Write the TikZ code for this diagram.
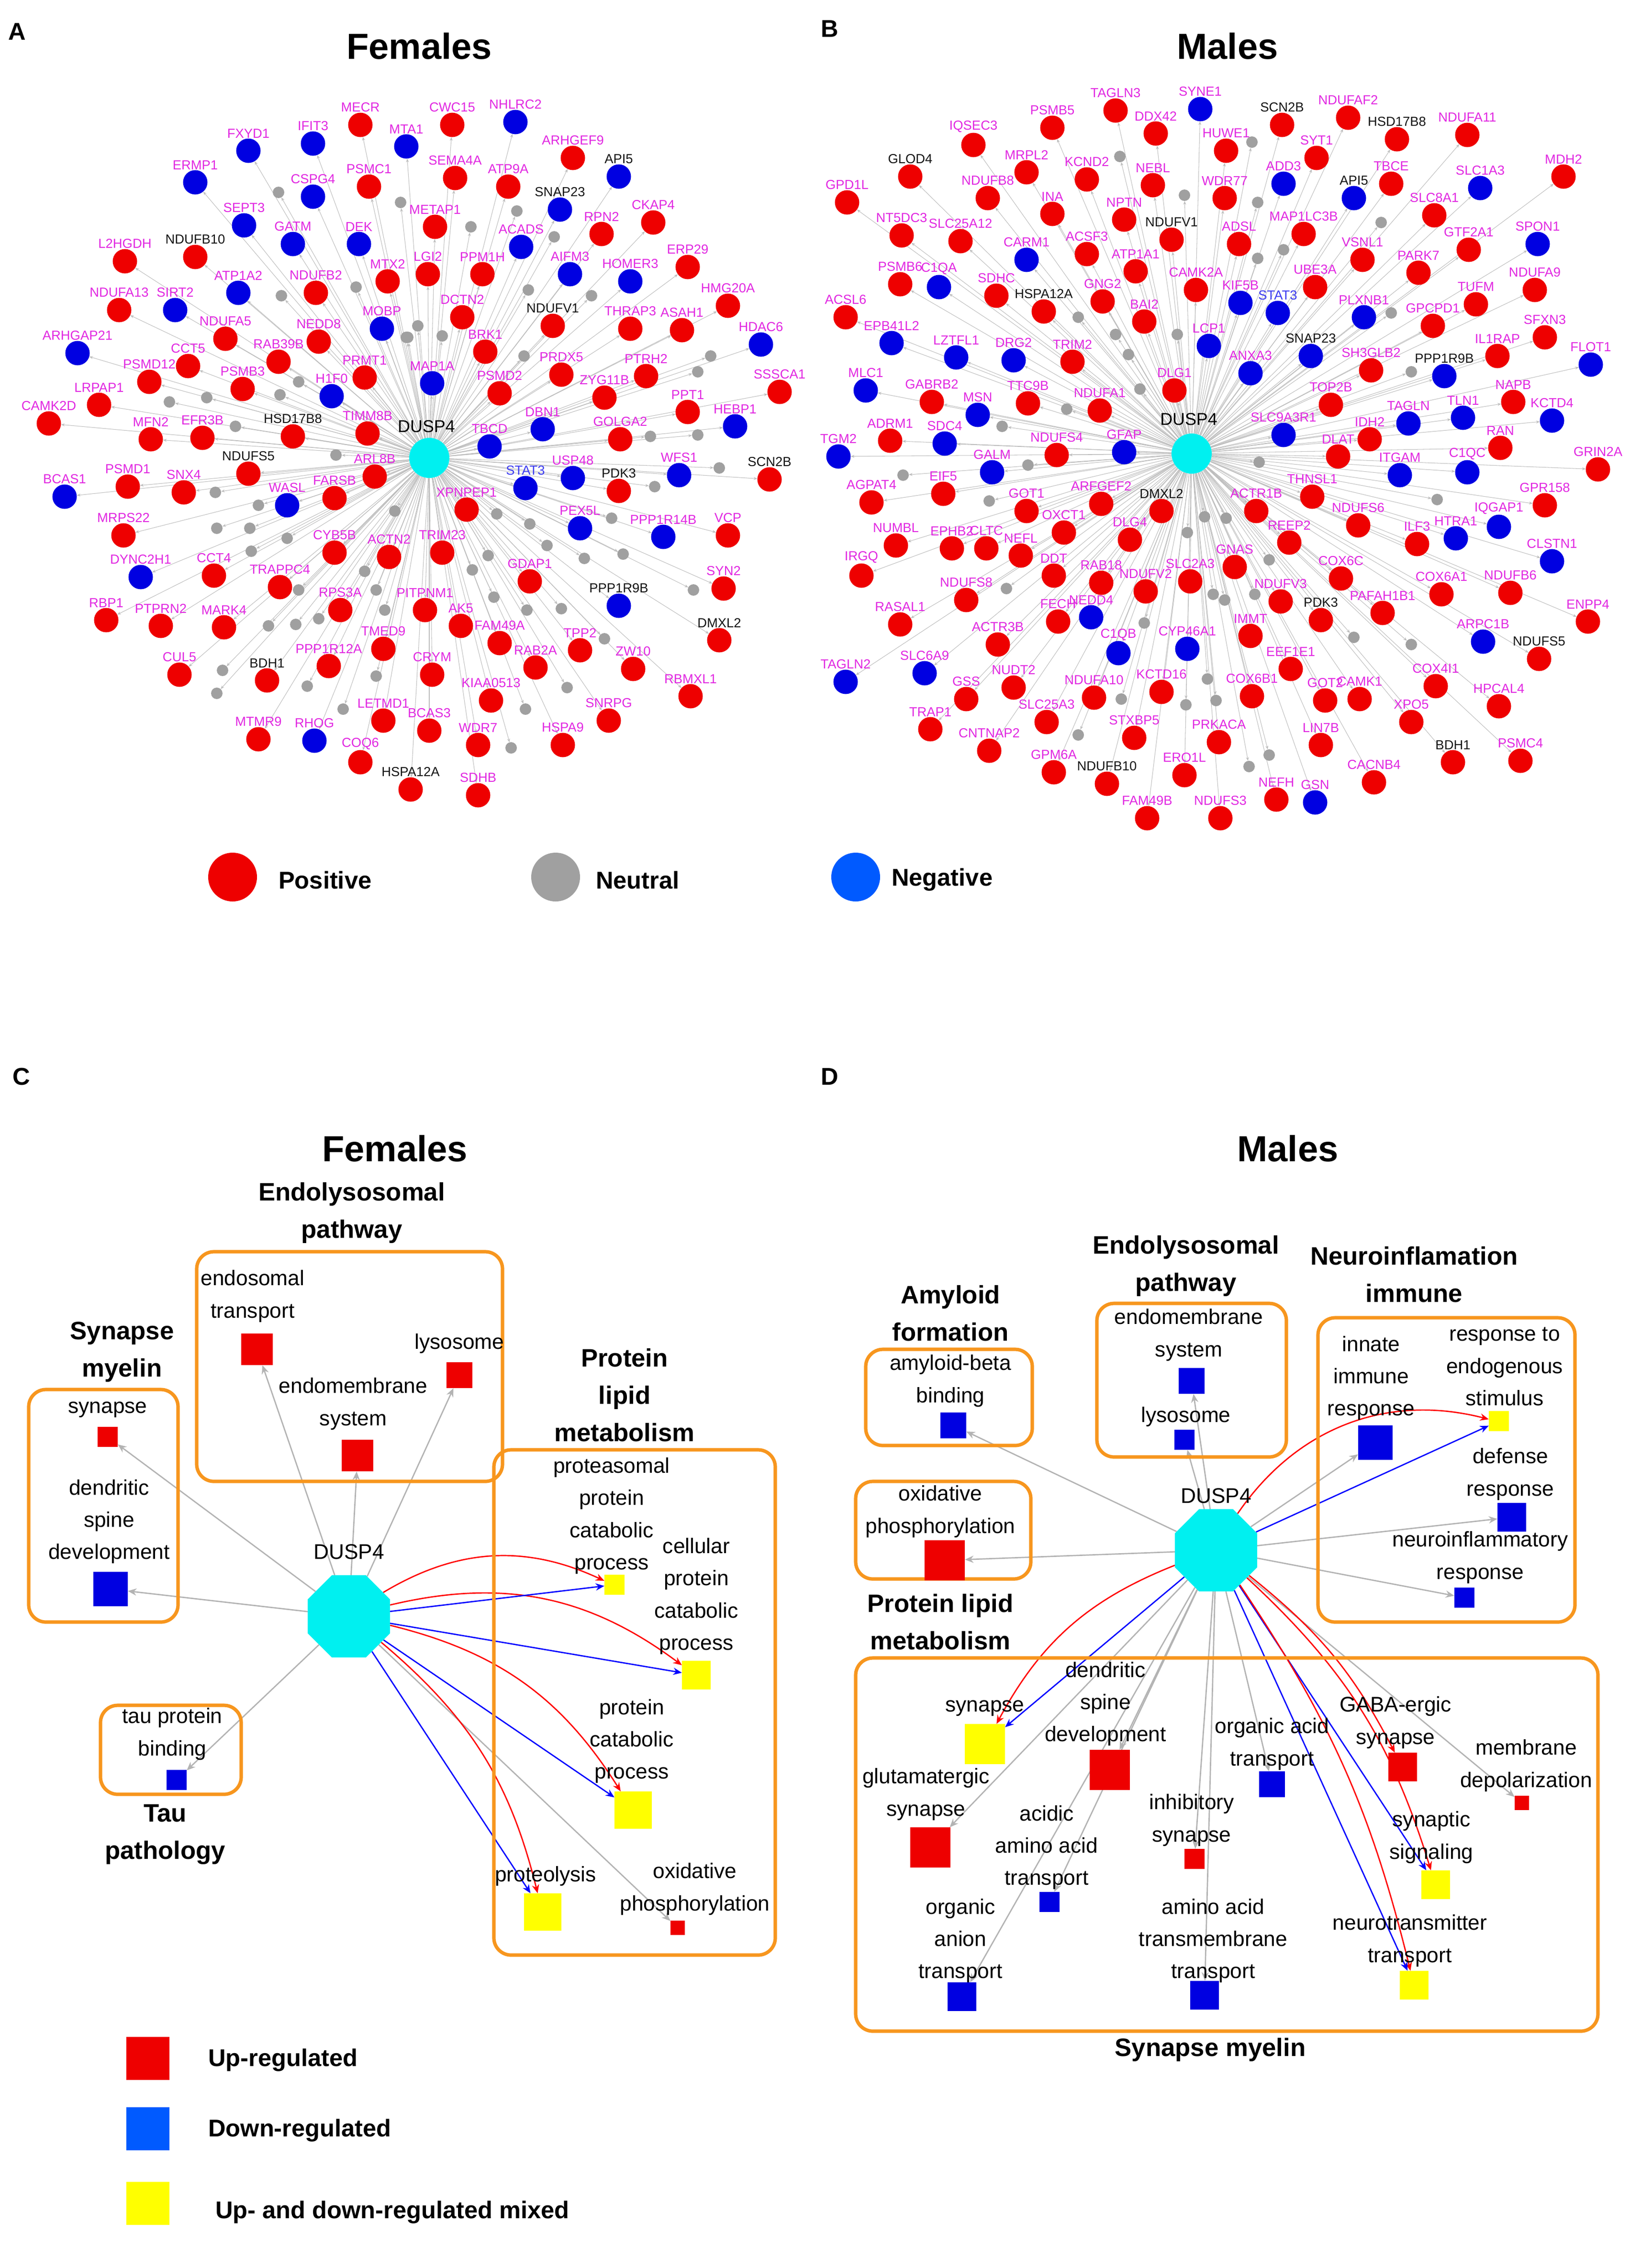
\documentclass[tikz,border=0pt]{standalone}
\usepackage{fontspec}
\setmainfont{Liberation Sans}
\usetikzlibrary{shapes.geometric,arrows.meta,backgrounds}
\definecolor{cP}{RGB}{238,0,0}
\definecolor{cN}{RGB}{0,0,225}
\definecolor{cM}{RGB}{225,40,225}
\definecolor{cK}{RGB}{20,20,20}
\definecolor{cB}{RGB}{60,60,240}
\definecolor{cG}{RGB}{160,160,160}
\definecolor{cC}{RGB}{0,240,240}
\definecolor{cO}{RGB}{247,150,30}
\definecolor{cY}{RGB}{255,255,0}
\definecolor{cLB}{RGB}{0,90,255}
\tikzset{
 nd/.style={circle,minimum size=17mm,inner sep=0,draw=none},
 gd/.style={circle,minimum size=8mm,inner sep=0,fill=cG,draw=none},
 lab/.style={font=\fontsize{26}{26}\selectfont,inner sep=0.3mm},
 gedge/.style={draw=cG!70,line width=0.35mm,-{Stealth[length=2.5mm,width=2mm]}},
 hub/.style={circle,fill=cC,minimum size=28mm,inner sep=0},
 hublab/.style={font=\fontsize{34}{34}\selectfont},
 oct/.style={regular polygon,regular polygon sides=8,fill=cC,minimum size=62mm,inner sep=0},
 sq/.style={rectangle,minimum size=#1,inner sep=0,draw=none},
 ct/.style={font=\fontsize{42}{64}\selectfont,align=center,inner sep=0},
 tt/.style={font=\bfseries\fontsize{50}{74}\selectfont,align=center,inner sep=0},
 pt/.style={font=\bfseries\fontsize{72}{72}\selectfont,inner sep=0},
 let/.style={font=\bfseries\fontsize{48}{48}\selectfont,inner sep=0},
 leg/.style={font=\bfseries\fontsize{48}{48}\selectfont,anchor=west,inner sep=0},
 obox/.style={draw=cO,line width=2.4mm,rounded corners=12mm},
 ce/.style={draw=cG!80,line width=0.9mm,-{Stealth[length=6mm,width=5mm]}},
 re/.style={draw=red,line width=0.9mm,-{Stealth[length=6mm,width=5mm]}},
 be/.style={draw=blue,line width=0.9mm,-{Stealth[length=6mm,width=5mm]}},
}
\def\Alist{173/105/FXYD1/N/M,218/100/IFIT3/N/M,251/87/MECR/P/M,283/102/MTA1/N/M,315/87/CWC15/P/M,359/85/NHLRC2/N/M,
136/127/ERMP1/N/M,218/137/CSPG4/N/M,257/130/PSMC1/P/M,317/124/SEMA4A/P/M,399/110/ARHGEF9/P/M,431/123/API5/N/K,
354/130/ATP9A/P/M,390/146/SNAP23/N/K,170/157/SEPT3/N/M,204/170/GATM/N/M,250/170/DEK/N/M,303/158/METAP1/P/M,
363/172/ACADS/N/M,419/163/RPN2/P/M,455/155/CKAP4/P/M,87/182/L2HGDH/P/M,136/179/NDUFB10/P/K,166/204/ATP1A2/N/M,
220/204/NDUFB2/P/M,270/196/MTX2/P/M,298/191/LGI2/P/M,336/191/PPM1H/P/M,397/191/AIFM3/N/M,439/196/HOMER3/N/M,
479/186/ERP29/P/M,83/216/NDUFA13/P/M,122/216/SIRT2/N/M,322/221/DCTN2/P/M,385/227/NDUFV1/P/K,439/229/THRAP3/P/M,
475/230/ASAH1/P/M,507/213/HMG20A/P/M,157/236/NDUFA5/P/M,222/238/NEDD8/P/M,266/229/MOBP/N/M,338/245/BRK1/P/M,
530/240/HDAC6/N/M,54/246/ARHGAP21/N/M,131/255/CCT5/P/M,194/252/RAB39B/P/M,254/263/PRMT1/P/M,104/266/PSMD12/P/M,
169/271/PSMB3/P/M,231/276/H1F0/N/M,301/267/MAP1A/N/M,348/274/PSMD2/P/M,391/261/PRDX5/P/M,421/277/ZYG11B/P/M,
450/262/PTRH2/P/M,543/273/SSSCA1/P/M,69/282/LRPAP1/P/M,479/287/PPT1/P/M,512/297/HEBP1/N/M,378/299/DBN1/N/M,
34/295/CAMK2D/P/M,105/306/MFN2/P/M,141/305/EFR3B/P/M,204/304/HSD17B8/P/K,256/302/TIMM8B/P/M,432/306/GOLGA2/P/M,
341/311/TBCD/N/M,173/330/NDUFS5/P/K,261/332/ARL8B/P/M,45/346/BCAS1/N/M,89/339/PSMD1/P/M,128/343/SNX4/P/M,
200/352/WASL/N/M,233/347/FARSB/P/M,399/333/USP48/N/M,366/340/STAT3/N/B,431/342/PDK3/P/K,473/331/WFS1/N/M,
536/334/SCN2B/P/K,325/355/XPNPEP1/P/M,86/373/MRPS22/P/M,404/368/PEX5L/N/M,462/374/PPP1R14B/N/M,507/373/VCP/P/M,
233/385/CYB5B/P/M,271/388/ACTN2/P/M,308/385/TRIM23/P/M,98/402/DYNC2H1/N/M,149/401/CCT4/P/M,195/409/TRAPPC4/P/M,
369/405/GDAP1/P/M,504/410/SYN2/P/M,431/422/PPP1R9B/N/K,237/425/RPS3A/P/M,296/425/PITPNM1/P/M,74/432/RBP1/P/M,
112/436/PTPRN2/P/M,156/437/MARK4/P/M,321/436/AK5/P/M,501/446/DMXL2/P/K,348/448/FAM49A/P/M,404/453/TPP2/P/M,
267/452/TMED9/P/M,229/464/PPP1R12A/P/M,373/465/RAB2A/P/M,441/466/ZW10/P/M,125/470/CUL5/P/M,186/474/BDH1/P/K,
301/470/CRYM/P/M,481/485/RBMXL1/P/M,342/488/KIAA0513/P/M,267/502/LETMD1/P/M,424/502/SNRPG/P/M,299/509/BCAS3/P/M,
180/515/MTMR9/P/M,219/516/RHOG/N/M,333/519/WDR7/P/M,392/519/HSPA9/P/M,251/531/COQ6/P/M,286/550/HSPA12A/P/K,
333/554/SDHB/P/M}
\def\Agray{194/134,279/141,196/206,248/200,283/235,208/266,195/275,144/277,118/280,164/297,
360/147,328/158,386/165,368/202,412/206,291/227,284/235,308/234,365/248,495/248,486/259,453/304,486/303,234/317,
150/343,180/352,151/368,174/368,200/375,175/384,275/356,254/398,208/411,262/411,268/425,222/431,206/435,187/436,
155/467,151/483,214/478,262/471,239/494,501/326,456/339,346/358,369/365,426/361,381/380,407/389,434/386,483/411,
340/387,329/397,344/416,367/425,391/424,421/445,395/479,366/494,356/521}
\def\Blist{777/77/TAGLN3/P/M,836/76/SYNE1/N/M,733/89/PSMB5/P/M,805/93/DDX42/P/M,678/101/IQSEC3/P/M,854/105/HUWE1/P/M,
715/120/MRPL2/P/M,757/125/KCND2/P/M,803/129/NEBL/P/M,634/123/GLOD4/P/K,590/141/GPD1L/P/M,688/138/NDUFB8/P/M,
853/138/WDR77/P/M,733/149/INA/P/M,783/153/NPTN/P/M,816/167/NDUFV1/P/K,628/164/NT5DC3/P/M,669/168/SLC25A12/P/M,
757/177/ACSF3/P/M,863/170/ADSL/P/M,715/181/CARM1/N/M,791/189/ATP1A1/P/M,833/202/CAMK2A/P/M,627/198/PSMB6/P/M,
654/200/C1QA/N/M,694/206/SDHC/P/M,727/217/HSPA12A/P/K,768/210/GNG2/P/M,797/224/BAI2/P/M,589/221/ACSL6/P/M,
621/239/EPB41L2/N/M,666/249/LZTFL1/N/M,706/251/DRG2/N/M,747/252/TRIM2/P/M,842/241/LCP1/N/M,864/211/KIF5B/N/M,
603/272/MLC1/N/M,649/280/GABRB2/P/M,716/281/TTC9B/P/M,766/286/NDUFA1/P/M,818/272/DLG1/P/M,681/289/MSN/N/M,
620/307/ADRM1/P/M,658/309/SDC4/N/M,736/317/NDUFS4/P/M,783/315/GFAP/N/M,584/318/TGM2/N/M,893/87/SCN2B/P/K,
939/82/NDUFAF2/P/M,973/97/HSD17B8/P/K,1022/94/NDUFA11/P/M,917/110/SYT1/P/M,894/128/ADD3/N/M,943/138/API5/N/K,
969/128/TBCE/P/M,1031/131/SLC1A3/N/M,1089/123/MDH2/P/M,908/163/MAP1LC3B/P/M,999/150/SLC8A1/P/M,1023/174/GTF2A1/P/M,
1071/170/SPON1/N/M,949/181/VSNL1/P/M,988/190/PARK7/P/M,916/200/UBE3A/P/M,1028/212/TUFM/P/M,1069/202/NDUFA9/P/M,
890/218/STAT3/N/B,950/221/PLXNB1/N/M,998/227/GPCPD1/P/M,1076/235/SFXN3/P/M,913/248/SNAP23/N/K,871/260/ANXA3/N/M,
955/258/SH3GLB2/P/M,1043/248/IL1RAP/P/M,1006/262/PPP1R9B/N/K,1108/254/FLOT1/N/M,927/282/TOP2B/P/M,1054/280/NAPB/P/M,
981/295/TAGLN/N/M,1019/291/TLN1/N/M,1081/293/KCTD4/N/M,894/303/SLC9A3R1/N/M,954/306/IDH2/P/M,932/318/DLAT/P/M,
1045/312/RAN/P/M,975/331/ITGAM/N/M,1022/329/C1QC/N/M,1113/327/GRIN2A/P/M,914/346/THNSL1/P/M,1076/352/GPR158/P/M,
875/356/ACTR1B/P/M,946/366/NDUFS6/P/M,1044/367/IQGAP1/N/M,1014/375/HTRA1/N/M,898/378/REEP2/P/M,987/379/ILF3/P/M,
1081/391/CLSTN1/N/M,860/395/GNAS/P/M,934/403/COX6C/P/M,1004/414/COX6A1/P/M,1052/413/NDUFB6/P/M,892/419/NDUFV3/P/M,
963/427/PAFAH1B1/P/M,920/432/PDK3/P/K,1106/433/ENPP4/P/M,871/443/IMMT/P/M,1033/447/ARPC1B/N/M,1072/459/NDUFS5/P/K,
899/466/EEF1E1/P/M,1000/478/COX4I1/P/M,872/485/COX6B1/P/M,923/488/GOT2/P/M,947/487/CAMK1/P/M,1044/492/HPCAL4/P/M,
983/503/XPO5/P/M,849/517/PRKACA/P/M,920/519/LIN7B/P/M,1012/531/BDH1/P/K,1059/530/PSMC4/P/M,957/545/CACNB4/P/M,
889/557/NEFH/P/M,916/559/GSN/N/M,850/570/NDUFS3/P/M,691/329/GALM/N/M,657/344/EIF5/P/M,607/350/AGPAT4/P/M,
715/356/GOT1/P/M,767/351/ARFGEF2/P/M,809/356/DMXL2/P/K,741/371/OXCT1/P/M,787/376/DLG4/P/M,624/380/NUMBL/P/M,
663/382/EPHB2/P/M,687/382/CLTC/P/M,711/387/NEFL/P/M,600/401/IRGQ/P/M,734/401/DDT/P/M,767/406/RAB18/P/M,
798/412/NDUFV2/P/M,829/405/SLC2A3/P/M,673/418/NDUFS8/P/M,737/433/FECH/P/M,760/430/NEDD4/N/M,627/435/RASAL1/P/M,
695/449/ACTR3B/P/M,779/455/C1QB/N/M,827/452/CYP46A1/N/M,589/475/TAGLN2/N/M,644/469/SLC6A9/N/M,706/479/NUDT2/P/M,
673/487/GSS/P/M,762/486/NDUFA10/P/M,809/482/KCTD16/P/M,729/503/SLC25A3/P/M,648/508/TRAP1/P/M,790/514/STXBP5/P/M,
689/523/CNTNAP2/P/M,734/538/GPM6A/P/M,825/540/ERO1L/P/M,771/546/NDUFB10/P/K,799/570/FAM49B/P/M}
\def\Bgray{780/109,825/136,751/221,777/233,820/233,786/247,794/271,743/285,698/297,872/99,
876/141,962/155,894/174,876/180,969/218,983/259,877/322,1001/348,854/361,884/390,874/414,853/418,943/444,983/449,
847/488,884/526,870/534,629/331,716/324,689/349,839/360,827/371,701/410,845/414,797/434,841/473,781/487,826/491,751/512}
\begin{document}
\begin{tikzpicture}[x=1mm,y=1mm]
\useasboundingbox (0,0) rectangle (1135,-1580);
% ---------- Panel A ----------
\node[let] (LA) at (12,-22) {A};
\node[pt] (TA) at (292,-32) {Females};
\node[hub] (A-c) at (299,-319) {};
\node[hublab] (A-cl) at (297,-297) {DUSP4};
\foreach \x/\y/\t/\f/\c in \Alist {\node[nd,fill=c\f,label={[lab,text=c\c]above:\t}] (A-\t) at (\x,-\y) {};}
\foreach \x/\y [count=\i] in \Agray {\node[gd] (Ag\i) at (\x,-\y) {};}
% ---------- Panel B ----------
\node[let] (LB) at (578,-20) {B};
\node[pt] (TB) at (855,-32) {Males};
\node[hub] (B-c) at (830,-316) {};
\node[hublab] (B-cl) at (828,-292) {DUSP4};
\foreach \x/\y/\t/\f/\c in \Blist {\node[nd,fill=c\f,label={[lab,text=c\c]above:\t}] (B-\t) at (\x,-\y) {};}
\foreach \x/\y [count=\i] in \Bgray {\node[gd] (Bg\i) at (\x,-\y) {};}
\begin{scope}[on background layer]
\foreach \x/\y/\t/\f/\c in \Alist {\draw[gedge] (A-c) -- (A-\t);}
\foreach \x/\y [count=\i] in \Agray {\draw[gedge] (A-c) -- (Ag\i);}
\foreach \x/\y/\t/\f/\c in \Blist {\draw[gedge] (B-c) -- (B-\t);}
\foreach \x/\y [count=\i] in \Bgray {\draw[gedge] (B-c) -- (Bg\i);}
\end{scope}
% legend top
\node[circle,fill=cP,minimum size=34mm] (L1) at (162,-611) {};
\node[leg] (L1t) at (194,-613) {Positive};
\node[circle,fill=cG,minimum size=34mm] (L2) at (387,-611) {};
\node[leg] (L2t) at (415,-613) {Neutral};
\node[circle,fill=cLB,minimum size=34mm] (L3) at (596,-611) {};
\node[leg] (L3t) at (621,-613) {Negative};
% ---------- Panel C ----------
\node[let] (LC) at (15,-750) {C};
\node[pt] (TC) at (275,-800) {Females};
\node[tt] (C-t1) at (245,-845) {Endolysosomal\\pathway};
\node[tt] (C-t2) at (85,-942) {Synapse\\myelin};
\node[tt] (C-t3) at (435,-972) {Protein\\lipid\\metabolism};
\node[tt] (C-t4) at (115,-1278) {Tau\\pathology};
\draw[obox] (137,-872) rectangle (350,-1032);
\draw[obox] (20,-968) rectangle (124,-1130);
\draw[obox] (344,-1010) rectangle (540,-1362);
\draw[obox] (70,-1188) rectangle (168,-1250);
\node[oct] (C-c) at (243,-1126) {};
\node[ct] (C-cl) at (243,-1081) {DUSP4};
\node[ct] at (75,-982) {synapse};
\node[sq=14mm,fill=cP] (C-syn) at (75,-1001) {};
\node[ct] at (76,-1060) {dendritic\\spine\\development};
\node[sq=24mm,fill=cN] (C-den) at (77,-1107) {};
\node[ct] at (176,-903) {endosomal\\transport};
\node[sq=22mm,fill=cP] (C-endo) at (179,-940) {};
\node[ct] at (320,-936) {lysosome};
\node[sq=18mm,fill=cP] (C-lys) at (320,-958) {};
\node[ct] at (246,-978) {endomembrane\\system};
\node[sq=22mm,fill=cP] (C-emb) at (249,-1014) {};
\node[ct] at (120,-1208) {tau protein\\binding};
\node[sq=14mm,fill=cN] (C-tau) at (123,-1240) {};
\node[ct] at (426,-1056) {proteasomal\\protein\\catabolic\\process};
\node[sq=14mm,fill=cY] (C-prot) at (428,-1104) {};
\node[ct] at (485,-1112) {cellular\\protein\\catabolic\\process};
\node[sq=20mm,fill=cY] (C-cell) at (485,-1167) {};
\node[ct] at (440,-1213) {protein\\catabolic\\process};
\node[sq=26mm,fill=cY] (C-pcp) at (441,-1261) {};
\node[ct] at (380,-1307) {proteolysis};
\node[sq=26mm,fill=cY] (C-pl) at (378,-1332) {};
\node[ct] at (484,-1316) {oxidative\\phosphorylation};
\node[sq=10mm,fill=cP] (C-ox) at (472,-1343) {};
\begin{scope}[on background layer]
\foreach \n in {syn,den,endo,emb,lys,tau,ox} {\draw[ce] (C-c) -- (C-\n);}
\draw[re] (C-c) to[bend left=28] (C-prot);
\draw[re] (C-c) to[bend left=25] (C-cell);
\draw[re] (C-c) to[bend left=22] (C-pcp);
\draw[re] (C-c) to[bend left=18] (C-pl);
\foreach \n in {prot,cell,pcp,pl} {\draw[be] (C-c) -- (C-\n);}
\end{scope}
% ---------- Panel D ----------
\node[let] (LD) at (578,-750) {D};
\node[pt] (TD) at (897,-800) {Males};
\node[tt] (D-t1) at (662,-915) {Amyloid\\formation};
\node[tt] (D-t2) at (826,-882) {Endolysosomal\\pathway};
\node[tt] (D-t3) at (985,-888) {Neuroinflamation\\immune};
\node[tt] (D-t4) at (655,-1130) {Protein lipid\\metabolism};
\node[tt] (D-t5) at (843,-1428) {Synapse myelin};
\draw[obox] (603,-940) rectangle (719,-1007);
\draw[obox] (764,-908) rectangle (896,-1015);
\draw[obox] (918,-918) rectangle (1097,-1130);
\draw[obox] (596,-1032) rectangle (718,-1100);
\draw[obox] (596,-1155) rectangle (1113,-1415);
\node[oct] (D-c) at (847,-1080) {};
\node[ct] (D-cl) at (847,-1042) {DUSP4};
\node[ct] at (662,-962) {amyloid-beta\\binding};
\node[sq=18mm,fill=cN] (D-amy) at (664,-993) {};
\node[ct] at (828,-930) {endomembrane\\system};
\node[sq=18mm,fill=cN] (D-emb) at (830,-962) {};
\node[ct] at (826,-987) {lysosome};
\node[sq=14mm,fill=cN] (D-lys) at (825,-1003) {};
\node[ct] at (955,-960) {innate\\immune\\response};
\node[sq=24mm,fill=cN] (D-inn) at (958,-1005) {};
\node[ct] at (1048,-952) {response to\\endogenous\\stimulus};
\node[sq=14mm,fill=cY] (D-res) at (1044,-990) {};
\node[ct] at (1052,-1027) {defense\\response};
\node[sq=20mm,fill=cN] (D-def) at (1053,-1057) {};
\node[ct] at (1031,-1085) {neuroinflammatory\\response};
\node[sq=14mm,fill=cN] (D-neu) at (1020,-1113) {};
\node[ct] at (655,-1053) {oxidative\\phosphorylation};
\node[sq=28mm,fill=cP] (D-ox) at (658,-1087) {};
\node[ct] at (686,-1190) {synapse};
\node[sq=28mm,fill=cY] (D-syn) at (686,-1215) {};
\node[ct] at (770,-1187) {dendritic\\spine\\development};
\node[sq=28mm,fill=cP] (D-den) at (773,-1233) {};
\node[ct] at (645,-1250) {glutamatergic\\synapse};
\node[sq=28mm,fill=cP] (D-glu) at (648,-1287) {};
\node[ct] at (729,-1287) {acidic\\amino acid\\transport};
\node[sq=14mm,fill=cN] (D-aci) at (731,-1325) {};
\node[ct] at (886,-1215) {organic acid\\transport};
\node[sq=18mm,fill=cN] (D-org) at (886,-1243) {};
\node[ct] at (830,-1268) {inhibitory\\synapse};
\node[sq=14mm,fill=cP] (D-inh) at (832,-1295) {};
\node[ct] at (972,-1200) {GABA-ergic\\synapse};
\node[sq=20mm,fill=cP] (D-gaba) at (977,-1231) {};
\node[ct] at (1063,-1230) {membrane\\depolarization};
\node[sq=10mm,fill=cP] (D-mem) at (1060,-1256) {};
\node[ct] at (997,-1280) {synaptic\\signaling};
\node[sq=20mm,fill=cY] (D-ss) at (1000,-1313) {};
\node[ct] at (669,-1352) {organic\\anion\\transport};
\node[sq=20mm,fill=cN] (D-oan) at (670,-1391) {};
\node[ct] at (845,-1352) {amino acid\\transmembrane\\transport};
\node[sq=20mm,fill=cN] (D-aat) at (839,-1390) {};
\node[ct] at (982,-1352) {neurotransmitter\\transport};
\node[sq=20mm,fill=cY] (D-nt) at (985,-1383) {};
\begin{scope}[on background layer]
\foreach \n in {amy,ox,emb,lys,inn,def,neu,den,glu,aci,org,inh,aat,oan,mem} {\draw[ce] (D-c) -- (D-\n);}
\draw[re] (D-c) to[bend left=35] (D-res);
\draw[be] (D-c) -- (D-res);
\draw[re] (D-c) to[bend right=20] (D-syn);
\draw[be] (D-c) -- (D-syn);
\draw[re] (D-c) to[bend left=12] (D-gaba);
\draw[re] (D-c) to[bend left=15] (D-ss);
\draw[be] (D-c) -- (D-ss);
\draw[re] (D-c) to[bend left=10] (D-nt);
\draw[be] (D-c) -- (D-nt);
\end{scope}
% legend bottom
\node[sq=30mm,fill=cP] (Q1) at (103,-1434) {};
\node[leg] (Q1t) at (145,-1435) {Up-regulated};
\node[sq=30mm,fill=cLB] (Q2) at (103,-1483) {};
\node[leg] (Q2t) at (145,-1484) {Down-regulated};
\node[sq=30mm,fill=cY] (Q3) at (103,-1535) {};
\node[leg] (Q3t) at (150,-1541) {Up- and down-regulated mixed};
\end{tikzpicture}
\end{document}
